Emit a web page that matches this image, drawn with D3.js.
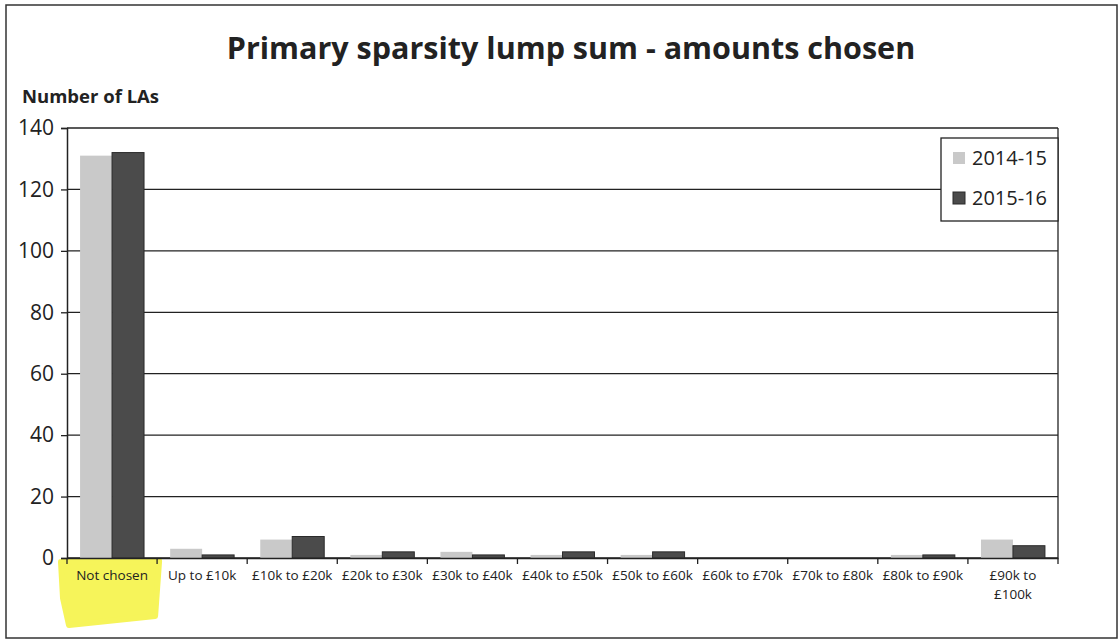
<!DOCTYPE html>
<html>
<head>
<meta charset="utf-8">
<script src="https://cdn.jsdelivr.net/npm/d3@7"></script>
<style>
  body { margin: 0; background: #fff; }
  text { font-family: Lato, "Open Sans", sans-serif; fill: #222; }
</style>
</head>
<body>
<div id="chart"></div>
<script>
var categories = ["Not chosen", "Up to £10k", "£10k to £20k", "£20k to £30k", "£30k to £40k",
  "£40k to £50k", "£50k to £60k", "£60k to £70k", "£70k to £80k", "£80k to £90k", "£90k to £100k"];
var seriesNames = ["2014-15", "2015-16"];
var values1415 = [131, 3, 6, 1, 2, 1, 1, 0, 0, 1, 6];
var values1516 = [132, 1, 7, 2, 1, 2, 2, 0, 0, 1, 4];
var yTicks = [0, 20, 40, 60, 80, 100, 120, 140];
var colors = ["#c9c9c9", "#4b4b4b"];

(function mainfigure() {
  var W = 1120, H = 642;
  var margin = { top: 128, right: 62, bottom: 84, left: 67 },
    width = W - margin.left - margin.right,
    height = H - margin.top - margin.bottom;

  var svg = d3.select("#chart").append("svg")
    .attr("width", W)
    .attr("height", H);

  // outer frame
  svg.append("rect")
    .attr("x", 6).attr("y", 5)
    .attr("width", 1111).attr("height", 633)
    .attr("fill", "none").attr("stroke", "#333").attr("stroke-width", 1.5);

  var x = d3.scaleBand().domain(categories).range([0, width]).paddingInner(0.29).paddingOuter(0.145);
  var x1 = d3.scaleBand().domain(seriesNames).range([0, x.bandwidth()]);
  var y = d3.scaleLinear().domain([0, 140]).range([height, 0]);
  var step = width / categories.length;

  var g = svg.append("g")
    .attr("transform", "translate(" + margin.left + "," + margin.top + ")");

  // yellow highlight under "Not chosen"
  var hx = x("Not chosen") - x.step() * x.paddingOuter();
  g.append("path")
    .attr("d", "M" + (hx - 6) + "," + (height + 4) +
      " L" + (hx + step + 2) + "," + (height + 3) +
      " L" + (hx + step - 2) + "," + (height + 58) +
      " L" + (hx + 2) + "," + (height + 67) +
      " L" + (hx - 4) + "," + (height + 40) + " Z")
    .attr("fill", "#f6f45a")
    .attr("stroke", "#f6f45a").attr("stroke-width", 6).attr("stroke-linejoin", "round");

  // gridlines
  g.selectAll(".grid").data(yTicks).enter().append("line")
    .attr("x1", 0).attr("x2", width)
    .attr("y1", function(d) { return y(d); })
    .attr("y2", function(d) { return y(d); })
    .attr("stroke", "#222").attr("stroke-width", 1.3);

  // right border
  g.append("line").attr("x1", width).attr("x2", width).attr("y1", 0).attr("y2", height)
    .attr("stroke", "#222").attr("stroke-width", 1.3);

  // bars
  var rows = categories.map(function(c, i) { return { cat: c, vals: [values1415[i], values1516[i]] }; });
  var grp = g.selectAll(".cat").data(rows).enter().append("g")
    .attr("transform", function(d) { return "translate(" + x(d.cat) + ",0)"; });
  grp.selectAll("rect").data(function(d) {
      return d.vals.map(function(v, j) { return { s: seriesNames[j], v: v, j: j }; });
    }).enter().append("rect")
    .attr("x", function(d) { return x1(d.s); })
    .attr("width", x1.bandwidth())
    .attr("y", function(d) { return y(d.v); })
    .attr("height", function(d) { return height - y(d.v); })
    .attr("fill", function(d) { return colors[d.j]; })
    .attr("stroke", function(d) { return d.j ? "#2a2a2a" : "none"; })
    .attr("stroke-width", 1);

  // y axis
  var yAxis = g.append("g")
    .call(d3.axisLeft(y).tickValues(yTicks).tickSize(6).tickPadding(7));
  yAxis.select(".domain").attr("stroke", "#222").attr("stroke-width", 1.5);
  yAxis.selectAll(".tick line").attr("stroke", "#222").attr("stroke-width", 1.3);
  yAxis.selectAll("text").attr("font-size", 21).attr("fill", "#2a2a2a")
    .style("font-family", "'Open Sans', sans-serif");

  // x axis
  var xAxis = g.append("g")
    .attr("transform", "translate(0," + height + ")")
    .call(d3.axisBottom(x).tickSize(0).tickPadding(12));
  xAxis.select(".domain").attr("stroke", "#222").attr("stroke-width", 1.5);
  xAxis.selectAll("text").attr("font-size", 13.5).attr("fill", "#222")
    .style("font-family", "'Open Sans', sans-serif");
  xAxis.selectAll(".tick").filter(function(d) { return d === "£90k to £100k"; })
    .select("text").text(null)
    .call(function(t) {
      t.append("tspan").attr("x", 0).attr("dy", "0.71em").text("£90k to");
      t.append("tspan").attr("x", 0).attr("dy", "1.45em").text("£100k");
    });
  xAxis.selectAll(".tick").filter(function(d) { return d === "Not chosen"; })
    .select("text").attr("fill", "#1d4a1d");
  // category separator ticks
  g.selectAll(".sep").data(d3.range(categories.length + 1)).enter().append("line")
    .attr("x1", function(i) { return i * step; })
    .attr("x2", function(i) { return i * step; })
    .attr("y1", height).attr("y2", height + 6)
    .attr("stroke", "#222").attr("stroke-width", 1.3);

  // legend
  var lg = svg.append("g").attr("transform", "translate(941,138)");
  lg.append("rect").attr("width", 117).attr("height", 83)
    .attr("fill", "#fff").attr("stroke", "#222").attr("stroke-width", 1.3);
  var items = lg.selectAll(".item").data(seriesNames).enter().append("g")
    .attr("transform", function(d, i) { return "translate(12," + (20 + i * 40) + ")"; });
  items.append("rect").attr("y", -6).attr("width", 12).attr("height", 12)
    .attr("fill", function(d, i) { return colors[i]; })
    .attr("stroke", function(d, i) { return i ? "#2a2a2a" : "none"; });
  items.append("text").attr("x", 19).attr("dy", "0.35em")
    .attr("font-size", 20).style("font-family", "'Open Sans', sans-serif")
    .text(function(d) { return d; });

  // titles
  svg.append("text")
    .attr("x", 571).attr("y", 59)
    .attr("text-anchor", "middle")
    .attr("font-size", 30.5).attr("font-weight", "bold")
    .attr("fill", "#2a2a2a")
    .style("font-family", "'Open Sans', sans-serif")
    .text("Primary sparsity lump sum - amounts chosen");

  svg.append("text")
    .attr("x", 22).attr("y", 103)
    .attr("font-size", 18.5).attr("font-weight", "bold")
    .style("font-family", "'Open Sans', sans-serif")
    .text("Number of LAs");
})();
</script>
</body>
</html>
